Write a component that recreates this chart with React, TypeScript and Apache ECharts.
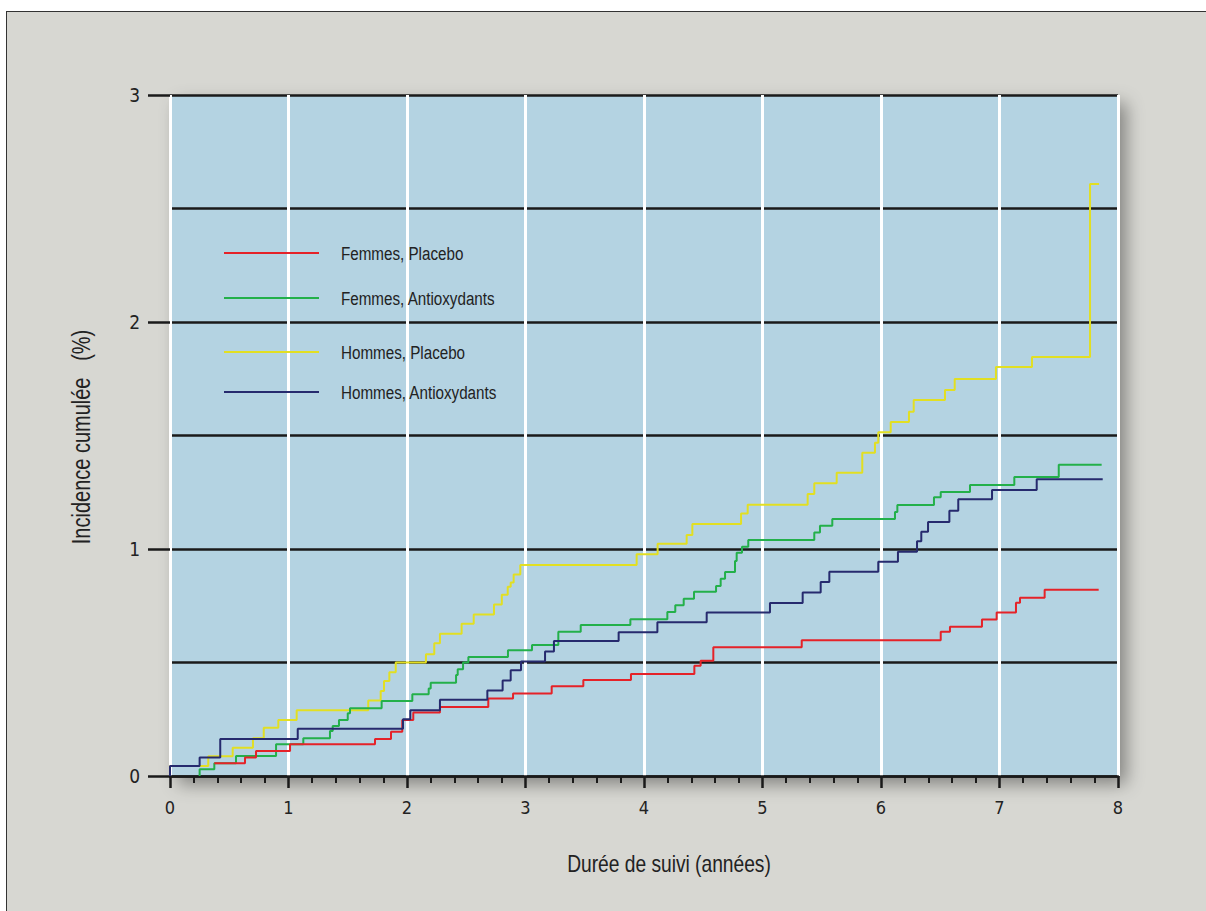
import React, { useEffect, useRef } from "react";
import * as echarts from "echarts";

const TXT_FONT = '"Liberation Sans", Arial, sans-serif';
const NUM_FONT = '"DejaVu Sans Condensed", "Liberation Sans", sans-serif';

const xAxisTitle = "Durée de suivi (années)";
const yAxisTitle = "Incidence cumulée   (%)";

const seriesNames = ["Femmes, Placebo", "Femmes, Antioxydants", "Hommes, Placebo", "Hommes, Antioxydants"];
const seriesColors = ["#e52228", "#23b04a", "#e2df22", "#262a6e"];

// [time (years), cumulative incidence (%)] at each step
const femmesPlacebo: [number, number][] = [
  [0.374, 0.056], [0.633, 0.082], [0.726, 0.11], [1.013, 0.14], [1.73, 0.163], [1.865, 0.195],
  [1.96, 0.247], [2.053, 0.28], [2.278, 0.304], [2.686, 0.341], [2.895, 0.363], [3.221, 0.395],
  [3.488, 0.423], [3.89, 0.449], [4.425, 0.486], [4.478, 0.508], [4.585, 0.567], [5.331, 0.598],
  [6.504, 0.636], [6.582, 0.658], [6.852, 0.689], [6.976, 0.72], [7.139, 0.763], [7.173, 0.785],
  [7.381, 0.821], [7.837, 0.821],
];

const femmesAntiox: [number, number][] = [
  [0.25, 0], [0.25, 0.03], [0.374, 0.056], [0.557, 0.088], [0.895, 0.14], [1.125, 0.166],
  [1.35, 0.198], [1.373, 0.22], [1.426, 0.247], [1.5, 0.276], [1.519, 0.298], [1.786, 0.33],
  [2.045, 0.36], [2.183, 0.386], [2.2, 0.411], [2.414, 0.445], [2.428, 0.47], [2.473, 0.5],
  [2.518, 0.524], [2.852, 0.554], [3.055, 0.577], [3.277, 0.636], [3.466, 0.665], [3.885, 0.69],
  [4.197, 0.722], [4.264, 0.752], [4.335, 0.781], [4.422, 0.812], [4.608, 0.837], [4.647, 0.869],
  [4.684, 0.899], [4.768, 0.947], [4.782, 0.984], [4.827, 1.01], [4.88, 1.04], [5.437, 1.073],
  [5.485, 1.102], [5.589, 1.132], [6.118, 1.163], [6.138, 1.194], [6.447, 1.228], [6.504, 1.251],
  [6.751, 1.282], [7.125, 1.317], [7.5, 1.371], [7.862, 1.371],
];

const hommesPlacebo: [number, number][] = [
  [0, 0], [0, 0.044], [0.323, 0.087], [0.529, 0.125], [0.7, 0.166], [0.791, 0.213], [0.914, 0.247],
  [1.069, 0.29], [1.673, 0.333], [1.778, 0.374], [1.806, 0.418], [1.851, 0.457], [1.905, 0.5],
  [2.16, 0.536], [2.23, 0.585], [2.278, 0.627], [2.461, 0.671], [2.563, 0.712], [2.734, 0.756],
  [2.8, 0.799], [2.85, 0.834], [2.875, 0.852], [2.9, 0.888], [2.956, 0.93], [3.938, 0.977],
  [4.115, 1.023], [4.36, 1.062], [4.408, 1.11], [4.819, 1.156], [4.875, 1.195], [5.381, 1.242],
  [5.437, 1.29], [5.626, 1.336], [5.842, 1.424], [5.949, 1.468], [5.977, 1.514], [6.082, 1.559],
  [6.236, 1.605], [6.276, 1.656], [6.54, 1.7], [6.622, 1.749], [6.97, 1.802], [7.274, 1.846],
  [7.764, 2.608], [7.84, 2.608],
];

const hommesAntiox: [number, number][] = [
  [0, 0], [0, 0.044], [0.25, 0.082], [0.424, 0.163], [1.078, 0.208], [1.966, 0.25], [2.028, 0.29],
  [2.278, 0.336], [2.678, 0.377], [2.807, 0.421], [2.875, 0.466], [2.962, 0.504], [3.165, 0.548],
  [3.24, 0.595], [3.786, 0.633], [4.113, 0.677], [4.529, 0.72], [5.063, 0.762], [5.339, 0.808],
  [5.491, 0.855], [5.564, 0.9], [5.977, 0.944], [6.143, 0.988], [6.304, 1.034], [6.34, 1.076],
  [6.397, 1.119], [6.577, 1.169], [6.652, 1.219], [6.937, 1.26], [7.314, 1.307], [7.871, 1.307],
];

const allSeries = [femmesPlacebo, femmesAntiox, hommesPlacebo, hommesAntiox];
const drawOrder = [2, 1, 0, 3];
const legendY = [253, 298, 352, 392];

export default function App() {
  const ref = useRef<HTMLDivElement>(null);

  useEffect(() => {
    if (!ref.current) return;
    const chart = echarts.init(ref.current, null, { renderer: "svg" });

    const legendGraphics: any[] = [];
    seriesNames.forEach((name, i) => {
      legendGraphics.push({
        type: "line",
        shape: { x1: 224, y1: legendY[i], x2: 319, y2: legendY[i] },
        style: { stroke: seriesColors[i], lineWidth: 2 },
        z: 10,
      });
      legendGraphics.push({
        type: "text",
        x: 341,
        y: legendY[i],
        scaleX: 0.8,
        style: {
          text: name,
          fill: "#222",
          font: `19px ${TXT_FONT}`,
          textVerticalAlign: "middle",
          textAlign: "left",
        },
        z: 10,
      });
    });

    chart.setOption({
      animation: false,
      backgroundColor: "transparent",
      grid: {
        left: 170,
        top: 95,
        width: 948,
        height: 681,
        show: true,
        backgroundColor: "#b4d3e2",
        borderWidth: 0,
        shadowBlur: 18,
        shadowOffsetX: 8,
        shadowOffsetY: 8,
        shadowColor: "rgba(0,0,0,0.4)",
      },
      xAxis: {
        type: "value",
        min: 0,
        max: 8,
        interval: 1,
        z: 1,
        axisLine: { show: true, onZero: false, lineStyle: { color: "#1a1a1a", width: 2.5 } },
        axisTick: { show: true, length: 12, lineStyle: { color: "#1a1a1a", width: 2.5 } },
        minorTick: { show: true, splitNumber: 5, length: 7, lineStyle: { color: "#1a1a1a", width: 2 } },
        axisLabel: { color: "#222", fontSize: 18, fontFamily: NUM_FONT, margin: 22 },
        splitLine: { show: true, lineStyle: { color: "#ffffff", width: 3 } },
      },
      yAxis: [
        {
          type: "value",
          min: 0,
          max: 3,
          interval: 0.5,
          z: 0,
          axisLine: { show: false },
          axisTick: { show: false },
          axisLabel: { show: false },
          splitLine: { show: true, lineStyle: { color: "#1a1a1a", width: 2.5 } },
        },
        {
          type: "value",
          min: 0,
          max: 3,
          interval: 1,
          position: "left",
          z: 1,
          axisLine: { show: true, lineStyle: { color: "rgba(0,0,0,0)", width: 0 } },
          axisTick: { show: true, inside: false, length: 22, lineStyle: { color: "#1a1a1a", width: 2.5 } },
          axisLabel: { color: "#222", fontSize: 19, fontFamily: NUM_FONT, margin: 30 },
          splitLine: { show: false },
        },
      ],
      graphic: [
        {
          type: "text",
          x: 82,
          y: 437,
          rotation: Math.PI / 2,
          scaleX: 0.8,
          style: {
            text: yAxisTitle,
            fill: "#222",
            font: `25px ${TXT_FONT}`,
            textAlign: "center",
            textVerticalAlign: "middle",
          },
        },
        {
          type: "text",
          x: 669,
          y: 864,
          scaleX: 0.8,
          style: {
            text: xAxisTitle,
            fill: "#222",
            font: `24px ${TXT_FONT}`,
            textAlign: "center",
            textVerticalAlign: "middle",
          },
        },
        ...legendGraphics,
      ],
      series: drawOrder.map((i) => ({
        type: "line",
        name: seriesNames[i],
        data: allSeries[i],
        step: "end",
        showSymbol: false,
        symbol: "none",
        z: 3,
        lineStyle: { color: seriesColors[i], width: 2 },
        emphasis: { disabled: true },
      })),
    });

    return () => chart.dispose();
  }, []);

  return (
    <div style={{ position: "fixed", left: 0, top: 0, width: 1206, height: 911, background: "#fff", overflow: "hidden" }}>
      <div
        style={{
          position: "absolute",
          left: 6,
          top: 11,
          width: 1300,
          height: 1000,
          background: "#d7d7d2",
          borderLeft: "1px solid #333",
          borderTop: "1px solid #333",
        }}
      />
      <div ref={ref} style={{ position: "absolute", left: 0, top: 0, width: 1206, height: 911 }} />
    </div>
  );
}
